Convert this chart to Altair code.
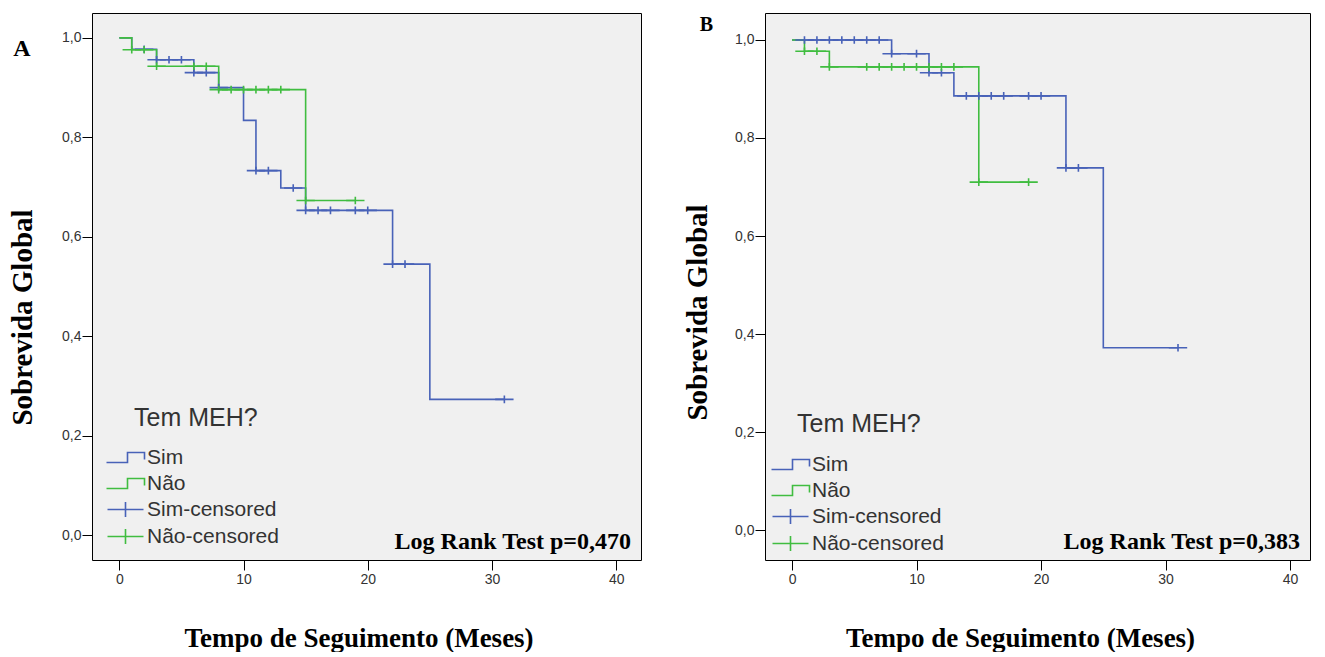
import altair as alt
import pandas as pd

BLUE = "#4862b8"
GREEN = "#40bd40"

# ---------------- Panel A ----------------
a_sim_t = [0, 1, 3, 6, 8, 10, 11, 13, 15, 22, 25, 31]
a_sim_s = [1.0, 0.977, 0.956, 0.930, 0.900, 0.834, 0.733, 0.698, 0.653, 0.545, 0.273, 0.273]
a_nao_t = [0, 1, 3, 8, 15, 19]
a_nao_s = [1.0, 0.976, 0.943, 0.896, 0.673, 0.673]
a_sim_cens_t = [2, 3, 4, 5, 6, 7, 8, 11, 12, 14, 15, 16, 17, 19, 20, 22, 23, 31]
a_sim_cens_s = [0.977, 0.956, 0.956, 0.956, 0.930, 0.930, 0.900, 0.733, 0.733, 0.698,
                0.653, 0.653, 0.653, 0.653, 0.653, 0.545, 0.545, 0.273]
a_nao_cens_t = [1, 2, 3, 6, 7, 8, 9, 10, 11, 12, 13, 15, 19]
a_nao_cens_s = [0.976, 0.976, 0.943, 0.943, 0.943, 0.896, 0.896, 0.896, 0.896, 0.896,
                0.896, 0.673, 0.673]

# ---------------- Panel B ----------------
b_sim_t = [0, 8, 11, 13, 22, 25, 31]
b_sim_s = [1.0, 0.972, 0.933, 0.886, 0.739, 0.372, 0.372]
b_nao_t = [0, 1, 3, 15, 19]
b_nao_s = [1.0, 0.977, 0.945, 0.710, 0.710]
b_sim_cens_t = [1, 2, 3, 4, 5, 6, 7, 8, 10, 11, 12, 14, 15, 16, 17, 19, 20, 22, 23, 31]
b_sim_cens_s = [1.0, 1.0, 1.0, 1.0, 1.0, 1.0, 1.0, 0.972, 0.972, 0.933, 0.933, 0.886,
                0.886, 0.886, 0.886, 0.886, 0.886, 0.739, 0.739, 0.372]
b_nao_cens_t = [1, 2, 3, 6, 7, 8, 9, 10, 11, 12, 13, 15, 19]
b_nao_cens_s = [0.977, 0.977, 0.945, 0.945, 0.945, 0.945, 0.945, 0.945, 0.945, 0.945,
                0.945, 0.710, 0.710]

groups = ["Sim", "Não", "Sim-censored", "Não-censored"]
legend_title = "Tem MEH?"
x_ticks = [0, 10, 20, 30, 40]
y_ticks = [0.0, 0.2, 0.4, 0.6, 0.8, 1.0]

STEP = "M-3.8,1L0.4,1L0.4,-1L3.8,-1L3.8,0.4"
PLUS = "M-3.6,0L3.6,0M0,-1.5L0,1.5"

color_scale = alt.Scale(domain=groups, range=[BLUE, GREEN, BLUE, GREEN])
shape_scale = alt.Scale(domain=groups, range=[STEP, STEP, PLUS, PLUS])


def panel(sim_t, sim_s, nao_t, nao_s, sc_t, sc_s, nc_t, nc_s, cfg):
    df_sim = pd.DataFrame({"t": sim_t, "s": sim_s})
    df_nao = pd.DataFrame({"t": nao_t, "s": nao_s})
    df_c = pd.concat([
        pd.DataFrame({"t": sc_t, "s": sc_s, "grupo": "Sim-censored"}),
        pd.DataFrame({"t": nc_t, "s": nc_s, "grupo": "Não-censored"}),
    ], ignore_index=True)

    xenc = alt.X("t:Q", scale=alt.Scale(domain=cfg["xdom"], nice=False, zero=False),
                 axis=alt.Axis(values=x_ticks, grid=False, domain=False, tickSize=10,
                               tickColor="black", tickWidth=1, labelFont="Liberation Sans",
                               labelFontSize=14, labelColor="#333333", labelPadding=2,
                               labelFlush=False, labelOverlap=False,
                               title="Tempo de Seguimento (Meses)",
                               titleFont="Liberation Serif", titleFontSize=27,
                               titleFontWeight="bold", titleColor="black",
                               titleAlign="center", titleBaseline="alphabetic",
                               titleX=cfg["xtx"], titleY=cfg["xty"]))
    yenc = alt.Y("s:Q", scale=alt.Scale(domain=cfg["ydom"], nice=False, zero=False),
                 axis=alt.Axis(values=y_ticks, grid=False, domain=False, tickSize=10,
                               tickColor="black", tickWidth=1, labelFont="Liberation Sans",
                               labelFontSize=14, labelColor="#333333", labelPadding=1,
                               labelFlush=False, labelOverlap=False,
                               labelExpr="replace(format(datum.value, '.1f'), '.', ',')",
                               title="Sobrevida Global", titleFont="Liberation Serif",
                               titleFontSize=29, titleFontWeight="bold", titleColor="black",
                               titleAngle=270, titleAlign="center", titleBaseline="middle",
                               titleX=cfg["ytx"], titleY=cfg["yty"]))

    line_sim = alt.Chart(df_sim).mark_line(interpolate="step-after", strokeWidth=1.6,
                                           color=BLUE).encode(x=xenc, y=yenc)
    line_nao = alt.Chart(df_nao).mark_line(interpolate="step-after", strokeWidth=1.6,
                                           color=GREEN).encode(x=xenc, y=yenc)
    leg = alt.Legend(title=None, orient="none",
                     legendX=cfg["lx"], legendY=cfg["ly"], padding=0,
                     labelFont="Liberation Sans", labelFontSize=21, labelColor="#333333",
                     labelOffset=11, rowPadding=4, symbolSize=100, symbolStrokeWidth=1.6,
                     symbolFillColor="transparent", labelLimit=300)
    cens = alt.Chart(df_c).mark_point(filled=False, strokeWidth=1.6, size=26,
                                      opacity=1).encode(
        x=xenc, y=yenc,
        color=alt.Color("grupo:N", scale=color_scale, legend=leg),
        shape=alt.Shape("grupo:N", scale=shape_scale, legend=leg),
    )
    leg_title = alt.Chart(pd.DataFrame({"lab": [legend_title]})).mark_text(
        font="Liberation Sans", fontSize=25, color="#333333",
        align="left", baseline="alphabetic").encode(
        text="lab:N", x=alt.value(cfg["ttx"]), y=alt.value(cfg["tty"]))
    letter = alt.Chart(pd.DataFrame({"lab": [cfg["letter"]]})).mark_text(
        font="Liberation Serif", fontWeight="bold", fontSize=cfg["lsize"], color="black",
        align="center", baseline="alphabetic").encode(
        text="lab:N", x=alt.value(cfg["ltx"]), y=alt.value(cfg["lty"]))
    logrank = alt.Chart(pd.DataFrame({"lab": [cfg["lr"]]})).mark_text(
        font="Liberation Serif", fontWeight="bold", fontSize=24, color="black",
        align="right", baseline="alphabetic").encode(
        text="lab:N", x=alt.value(cfg["w"] - 10), y=alt.value(cfg["h"] - 11))
    return alt.layer(line_sim, line_nao, cens, leg_title, letter, logrank).properties(
        width=cfg["w"], height=cfg["h"])


cfgA = dict(xdom=[-2.2, 42.0], ydom=[-0.05, 1.05], w=549, h=547, xtx=266.5, xty=86,
            ytx=-69.5, yty=304, lx=23, ly=434, ttx=42, tty=413,
            letter="A", lsize=24, ltx=-70, lty=43, lr="Log Rank Test p=0,470")
cfgB = dict(xdom=[-2.17, 41.6], ydom=[-0.061, 1.055], w=545, h=547, xtx=255, xty=86,
            ytx=-68, yty=299, lx=15, ly=441, ttx=32, tty=419,
            letter="B", lsize=20, ltx=-58.5, lty=18, lr="Log Rank Test p=0,383")

chartA = panel(a_sim_t, a_sim_s, a_nao_t, a_nao_s, a_sim_cens_t, a_sim_cens_s,
               a_nao_cens_t, a_nao_cens_s, cfgA)
chartB = panel(b_sim_t, b_sim_s, b_nao_t, b_nao_s, b_sim_cens_t, b_sim_cens_s,
               b_nao_cens_t, b_nao_cens_s, cfgB)

chart = alt.hconcat(chartA, chartB, spacing=40).resolve_scale(
    color="independent", shape="independent").properties(
    padding={"left": 0, "top": 4, "right": 0, "bottom": 0},
    background="white",
).configure_view(fill="#f0f0f0", stroke="black", strokeWidth=1)

chart.save("out.html", embed_options={"renderer": "svg", "actions": False})
